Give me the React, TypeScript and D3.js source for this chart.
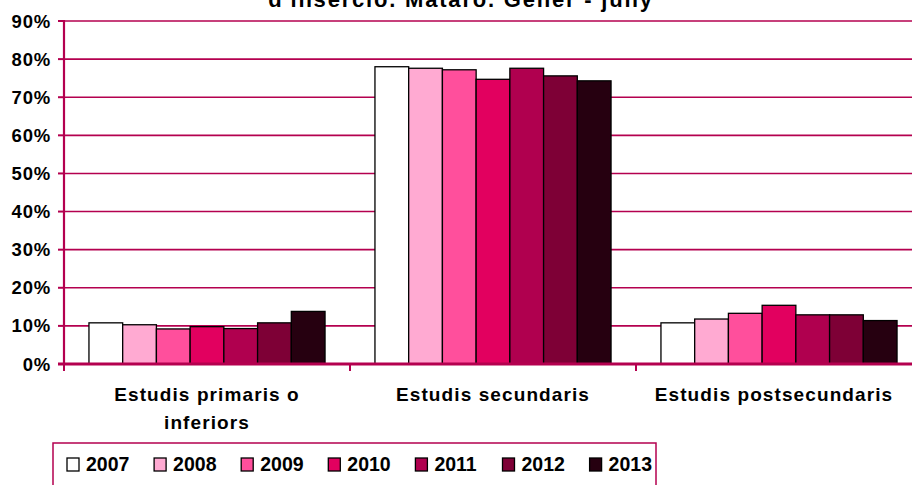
import React from 'react';
import * as d3 from 'd3';

const categories = [['Estudis primaris o', 'inferiors'], ['Estudis secundaris'], ['Estudis postsecundaris']];
const years = ['2007', '2008', '2009', '2010', '2011', '2012', '2013'];
const colors = ['#FFFFFF', '#FFAAD2', '#FF4F9C', '#E2005F', '#B0004F', '#7E0036', '#260010'];
// one array per category, values in %, one per year
const primaris = [10.8, 10.3, 9.2, 9.8, 9.3, 10.8, 13.8];
const secundaris = [78.0, 77.6, 77.2, 74.7, 77.6, 75.6, 74.3];
const postsecundaris = [10.8, 11.8, 13.3, 15.4, 12.9, 12.9, 11.4];
const yTicks = [0, 10, 20, 30, 40, 50, 60, 70, 80, 90];
const title = "d'inserció. Mataró. Gener - juny";

const series = [primaris, secundaris, postsecundaris];
const accent = '#B4004F';
const font = '"Liberation Sans", Arial, sans-serif';

export default function App() {
  const W = 912, H = 485;
  const left = 64, right = 922, top = 21, bottom = 364;

  const y = d3.scaleLinear().domain([0, 90]).range([bottom, top]);
  const x0 = d3.scaleBand<number>().domain(d3.range(categories.length)).range([left, right]).padding(0);
  const x1 = d3.scaleBand<number>().domain(d3.range(years.length)).range([0, x0.bandwidth()]).paddingInner(0).paddingOuter(0.74);
  const labelX = (ci: number) => x0(ci)! + x0.bandwidth() / 2 - (ci === 2 ? 5 : 0);

  return (
    <svg width={W} height={H} style={{ position: 'absolute', left: 0, top: 0, background: '#fff' }} fontFamily={font}>
      <text x={461} y={7} textAnchor="middle" fontWeight="bold" fontSize={22} letterSpacing={1.8}>{title}</text>

      {yTicks.map(t => (
        <g key={t}>
          {t > 0 && <line x1={left} x2={W} y1={y(t)} y2={y(t)} stroke={accent} strokeWidth={1.6} />}
          <line x1={left - 6} x2={left} y1={y(t)} y2={y(t)} stroke={accent} strokeWidth={2} />
          <text x={51} y={y(t) + 6.5} textAnchor="end" fontWeight="bold" fontSize={18.5} letterSpacing={0.8}>{t + '%'}</text>
        </g>
      ))}

      {series.map((vals, ci) => (
        <g key={ci} transform={`translate(${x0(ci)},0)`}>
          {vals.map((v, yi) => (
            <rect key={yi} x={x1(yi)} y={y(v)} width={x1.bandwidth()} height={bottom - y(v)}
              fill={colors[yi]} stroke="#000" strokeWidth={1.3} />
          ))}
        </g>
      ))}

      <line x1={left} x2={left} y1={top - 1} y2={bottom + 1} stroke={accent} strokeWidth={2.2} />
      <line x1={left - 6} x2={W} y1={bottom} y2={bottom} stroke={accent} strokeWidth={3} />
      {d3.range(categories.length + 1).map(i => {
        const xx = i < categories.length ? x0(i)! : right;
        return <line key={i} x1={xx} x2={xx} y1={bottom} y2={bottom + 7} stroke={accent} strokeWidth={2} />;
      })}

      {categories.map((lines, ci) => (
        <text key={ci} x={labelX(ci)} y={401} textAnchor="middle" fontWeight="bold" fontSize={19} letterSpacing={1.1}>
          {lines.map((l, li) => (
            <tspan key={li} x={labelX(ci)} dy={li === 0 ? 0 : 28}>{l}</tspan>
          ))}
        </text>
      ))}

      <rect x={53} y={443} width={603} height={70} fill="none" stroke={accent} strokeWidth={1.5} />
      {years.map((yr, i) => (
        <g key={yr} transform={`translate(${67 + i * 87.1},458)`}>
          <rect x={0} y={0} width={12} height={13} fill={colors[i]} stroke="#000" strokeWidth={1.3} />
          <text x={19} y={13} fontWeight="bold" fontSize={19.5}>{yr}</text>
        </g>
      ))}
    </svg>
  );
}
